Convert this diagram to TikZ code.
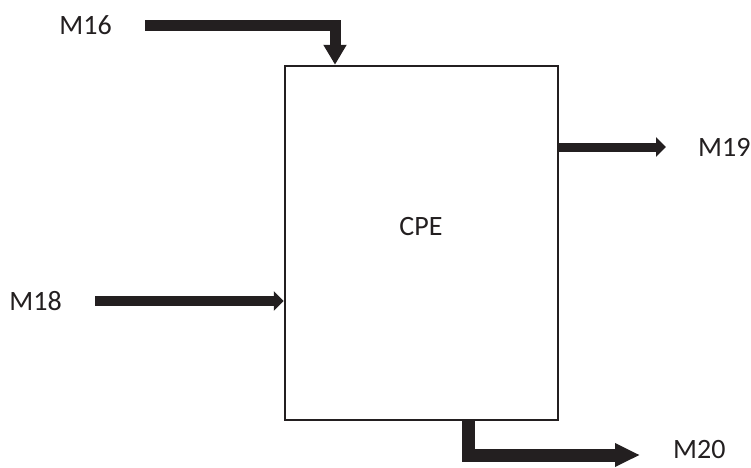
\documentclass[tikz,border=0pt]{standalone}
\usepackage{fontspec}
\setmainfont{Carlito}
\usetikzlibrary{arrows.meta, positioning, calc}
\definecolor{flowdark}{RGB}{35, 31, 32}

\begin{document}
\begin{tikzpicture}[
  x=1pt, y=-1pt,
  unit/.style={rectangle, draw=flowdark, line width=2.5pt,
               minimum width=273pt, minimum height=354pt, inner sep=0pt},
  tag/.style={font=\fontsize{28}{32}\selectfont, text=flowdark, inner sep=0pt},
  feed/.style={draw=flowdark, line width=10pt, -{Triangle[width=19pt, length=10pt]}},
  bigfeed/.style={draw=flowdark, line width=11pt, -{Triangle[width=22pt, length=20pt]}},
  product/.style={draw=flowdark, line width=13pt, -{Triangle[width=22pt, length=25pt]}},
]
  \useasboundingbox (0,0) rectangle (751,467);

  \node[unit] (cpe) at (421.5,243) {};
  \node[tag] (cpetxt) at (421,227) {CPE};

  \coordinate (m16start) at (145,25);
  \coordinate (m16turn) at (335,25);
  \coordinate (m18start) at (95,301);
  \coordinate (m19end) at (666,147);
  \coordinate (m20turn) at (468,455);
  \coordinate (m20end) at (640,455);

  \node[tag, left=33pt of m16start] (m16) {M16};
  \node[tag, left=33pt of m18start] (m18) {M18};
  \node[tag, right=32pt of m19end] (m19) {M19};
  \node[tag, right=33pt of m20end, yshift=6pt] (m20) {M20};

  \draw[bigfeed] (m16start) -- (m16turn) -- (m16turn |- cpe.north);
  \draw[feed] (m18start) -- (m18start -| cpe.west);
  \draw[feed, line width=9pt] (cpe.east |- m19end) -- (m19end);
  \draw[product] (m20turn |- cpe.south) -- (m20turn) -- (m20end);
\end{tikzpicture}
\end{document}
